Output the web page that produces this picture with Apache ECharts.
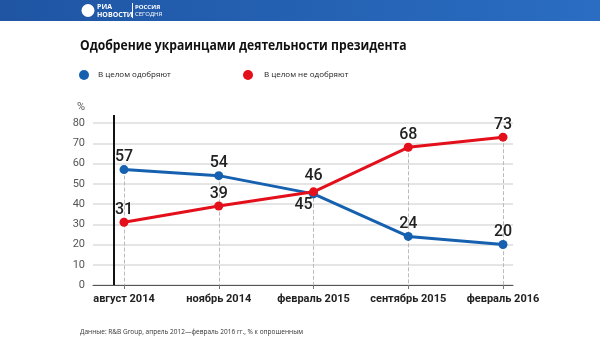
<!DOCTYPE html>
<html><head><meta charset="utf-8">
<script src="https://cdn.jsdelivr.net/npm/echarts@6/dist/echarts.min.js"></script>
<style>html,body{margin:0;padding:0;background:#fff}#c{width:600px;height:355px}</style>
</head><body><div id="c"></div>
<script>
const categories = ['август 2014','ноябрь 2014','февраль 2015','сентябрь 2015','февраль 2016'];
const approve = [57, 54, 45, 24, 20];
const disapprove = [31, 39, 46, 68, 73];
const seriesNames = ['В целом одобряют', 'В целом не одобряют'];
const yTicks = [0,10,20,30,40,50,60,70,80];

const BLUE = '#1660b0', RED = '#e3101b';
const FONT = 'Roboto,"Liberation Sans",sans-serif';
const chart = echarts.init(document.getElementById('c'));

const gTop = 123, gBottom = 70;
const dashData = categories.map((c, i) => [
  { coord: [i, Math.max(approve[i], disapprove[i])] },
  { coord: [i, 0] }
]);
const valueLabel = { show: true, position: 'top', distance: 0, fontFamily: FONT,
  fontWeight: 500, fontSize: 16, color: '#222' };

chart.setOption({
  animation: false,
  grid: [
    { left: 93, right: 87, top: gTop, bottom: gBottom },
    { left: 124, right: 97, top: gTop, bottom: gBottom }
  ],
  xAxis: [
    { gridIndex: 0, type: 'value', min: 0, max: 1,
      axisLine: { show: true, lineStyle: { color: '#555', width: 1 } },
      axisTick: { show: false }, axisLabel: { show: false }, splitLine: { show: false } },
    { gridIndex: 1, type: 'category', data: categories, boundaryGap: false,
      axisLine: { show: false },
      axisTick: { show: true, length: 4, interval: 0, lineStyle: { color: '#777' } },
      axisLabel: { interval: 0, margin: 9, fontFamily: FONT, fontWeight: 'bold', fontSize: 11, color: '#222' },
      splitLine: { show: false } }
  ],
  yAxis: [
    { gridIndex: 0, type: 'value', min: yTicks[0], max: yTicks[yTicks.length-1], interval: 10,
      name: '%', nameLocation: 'end', nameGap: 10,
      nameTextStyle: { fontFamily: FONT, fontSize: 11, color: '#555', align: 'right', padding: [0, 8, 0, 0] },
      axisLine: { show: false }, axisTick: { show: false },
      axisLabel: { margin: 8, fontFamily: FONT, fontSize: 11, color: '#555' },
      splitLine: { show: true, lineStyle: { color: '#dcdcdc', width: 1.5 } } },
    { gridIndex: 1, type: 'value', min: 0, max: 80, show: false, splitLine: { show: false } }
  ],
  graphic: [
    { type: 'rect', shape: { x: 0, y: 0, width: 600, height: 21 }, silent: true,
      style: { fill: new echarts.graphic.LinearGradient(0, 0, 1, 0, [
        { offset: 0, color: '#1f55a3' }, { offset: 1, color: '#2a6dc2' }]) } },
    { type: 'circle', shape: { cx: 88, cy: 10.5, r: 6.5 }, style: { fill: '#fff' } },
    { type: 'text', left: 97, top: 3, style: { text: 'РИА', fill: '#fff', font: 'bold 7px "Open Sans",sans-serif' } },
    { type: 'text', left: 97, top: 11, style: { text: 'НОВОСТИ', fill: '#fff', font: 'bold 7px "Open Sans",sans-serif' } },
    { type: 'line', shape: { x1: 132.5, y1: 3, x2: 132.5, y2: 18 }, style: { stroke: '#fff', lineWidth: 1 } },
    { type: 'text', left: 135, top: 4, style: { text: 'РОССИЯ', fill: '#fff', font: 'bold 6px "Open Sans",sans-serif' } },
    { type: 'text', left: 135, top: 11, style: { text: 'СЕГОДНЯ', fill: '#fff', font: '6px "Open Sans",sans-serif' } },
    { type: 'text', x: 80, y: 38, scaleX: 0.81, style: { text: 'Одобрение украинцами деятельности президента', fill: '#111', font: 'bold 15px "Open Sans",sans-serif' } },
    { type: 'circle', shape: { cx: 84, cy: 75, r: 5 }, style: { fill: BLUE } },
    { type: 'text', left: 98, top: 71, style: { text: seriesNames[0], fill: '#222', font: '8px "Open Sans",sans-serif' } },
    { type: 'circle', shape: { cx: 248, cy: 75, r: 5 }, style: { fill: RED } },
    { type: 'text', left: 264, top: 71, style: { text: seriesNames[1], fill: '#222', font: '8px "Open Sans",sans-serif' } },
    { type: 'line', shape: { x1: 114, y1: 115, x2: 114, y2: 285 }, style: { stroke: '#111', lineWidth: 2 }, z: 5 },
    { type: 'text', left: 80, top: 329, style: { text: 'Данные: R&B Group, апрель 2012—февраль 2016 гг., % к опрошенным', fill: '#333', font: '6.5px "Open Sans",sans-serif' } }
  ],
  series: [
    { name: seriesNames[1], type: 'line', xAxisIndex: 1, yAxisIndex: 1,
      data: disapprove.map((v, i) => i === 2 ? { value: v, label: { offset: [0, -3] } } : v),
      symbol: 'circle', symbolSize: 9, z: 3,
      lineStyle: { color: RED, width: 3 }, itemStyle: { color: RED },
      label: valueLabel,
      markLine: { silent: true, symbol: 'none', z: 1, label: { show: false },
        lineStyle: { type: 'dashed', color: '#bbb', width: 1 }, data: dashData } },
    { name: seriesNames[0], type: 'line', xAxisIndex: 1, yAxisIndex: 1,
      data: approve.map((v, i) => i === 2
        ? { value: v, label: { position: 'bottom', offset: [-10, -1] } }
        : v),
      symbol: 'circle', symbolSize: 9, z: 2,
      lineStyle: { color: BLUE, width: 3 }, itemStyle: { color: BLUE },
      label: valueLabel }
  ]
});
</script></body></html>
